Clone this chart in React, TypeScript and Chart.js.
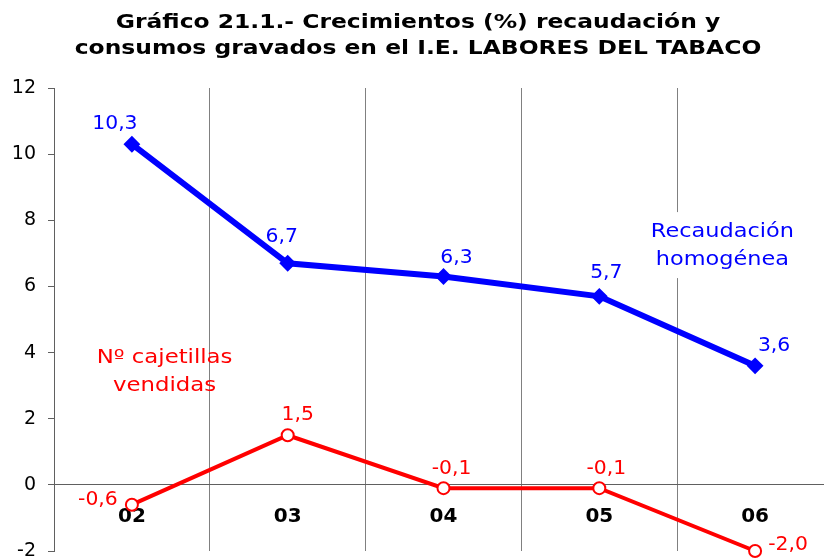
import React, { useEffect, useRef } from "react";
import { Chart, registerables } from "chart.js";

Chart.register(...registerables);

// ---- data ----
const categories = ["02", "03", "04", "05", "06"];
const recaudacion = [10.3, 6.7, 6.3, 5.7, 3.6];
const cajetillas = [-0.6, 1.5, -0.1, -0.1, -2.0];
const yMin = -2;
const yMax = 12;
const yStep = 2;
const titleLines = [
  "Gráfico 21.1.- Crecimientos (%) recaudación y",
  "consumos gravados en el I.E. LABORES DEL TABACO",
];
const recaudacionName = ["Recaudación", "homogénea"];
const cajetillasName = ["Nº cajetillas", "vendidas"];

// ---- styles (label offsets in pixels, annotation anchors in data units) ----
const BLUE = "#0000ff";
const RED = "#ff0000";
const FONT = "'DejaVu Sans', Verdana, sans-serif";
const blueLabelOffsets: [number, number][] = [
  [-17, -20],
  [-6, -26],
  [13, -18],
  [7, -23],
  [19, -20],
];
const redLabelOffsets: [number, number][] = [
  [-34, -5],
  [10, -20],
  [8, -19],
  [7, -19],
  [33, -6],
];
const blueNameAnchor = { x: 3.79, y: 7.22 };
const redNameAnchor = { x: 0.21, y: 3.45 };

const fmt = (v: number) => v.toFixed(1).replace(".", ",");

function drawText(
  ctx: CanvasRenderingContext2D,
  text: string,
  x: number,
  y: number,
  sx: number
) {
  ctx.save();
  ctx.translate(x, y);
  ctx.scale(sx, 1);
  ctx.fillText(text, 0, 0);
  ctx.restore();
}

const textPlugin = {
  id: "textPlugin",
  afterDraw(chart: any) {
    const ctx: CanvasRenderingContext2D = chart.ctx;
    const xs = chart.scales.x;
    const ys = chart.scales.y;
    ctx.save();
    ctx.textAlign = "center";
    ctx.textBaseline = "middle";

    // title
    ctx.fillStyle = "#000";
    ctx.font = `bold 20px ${FONT}`;
    titleLines.forEach((t, i) => drawText(ctx, t, 418, 23 + i * 26, 1.17));

    // value labels
    ctx.font = `19px ${FONT}`;
    ctx.fillStyle = BLUE;
    recaudacion.forEach((v, i) => {
      const [dx, dy] = blueLabelOffsets[i];
      drawText(ctx, fmt(v), xs.getPixelForValue(i) + dx, ys.getPixelForValue(v) + dy, 1.07);
    });
    ctx.fillStyle = RED;
    cajetillas.forEach((v, i) => {
      const [dx, dy] = redLabelOffsets[i];
      drawText(ctx, fmt(v), xs.getPixelForValue(i) + dx, ys.getPixelForValue(v) + dy, 1.07);
    });

    // series names
    const bx = xs.getPixelForValue(blueNameAnchor.x);
    const by = ys.getPixelForValue(blueNameAnchor.y);
    ctx.fillStyle = "#fff";
    ctx.fillRect(bx - 78, by - 34, 156, 66);
    ctx.fillStyle = BLUE;
    recaudacionName.forEach((t, i) => drawText(ctx, t, bx, by - 14 + i * 28, 1.18));

    const rx = xs.getPixelForValue(redNameAnchor.x);
    const ry = ys.getPixelForValue(redNameAnchor.y);
    ctx.fillStyle = RED;
    cajetillasName.forEach((t, i) => drawText(ctx, t, rx, ry - 13 + i * 28, 1.2));
    ctx.restore();
  },
};

export default function App() {
  const ref = useRef<HTMLCanvasElement>(null);
  useEffect(() => {
    if (!ref.current) return;
    const chart = new Chart(ref.current, {
      type: "line",
      data: {
        labels: categories,
        datasets: [
          {
            label: "Recaudación homogénea",
            data: recaudacion,
            borderColor: BLUE,
            backgroundColor: BLUE,
            borderWidth: 6,
            pointStyle: "rectRot",
            pointRadius: 7,
            pointBorderWidth: 2,
            pointBackgroundColor: BLUE,
            pointBorderColor: BLUE,
            tension: 0,
            clip: false as any,
          },
          {
            label: "Nº cajetillas vendidas",
            data: cajetillas,
            borderColor: RED,
            backgroundColor: RED,
            borderWidth: 4,
            pointStyle: "circle",
            pointRadius: 6,
            pointBorderWidth: 2,
            pointBackgroundColor: "#fff",
            pointBorderColor: RED,
            tension: 0,
            clip: false as any,
          },
        ],
      },
      options: {
        responsive: false,
        animation: false,
        devicePixelRatio: 1,
        layout: { padding: { top: 88, bottom: 29, left: 0, right: 0 } },
        plugins: {
          legend: { display: false },
          title: { display: false },
          tooltip: { enabled: false },
        },
        scales: {
          x: {
            type: "category",
            offset: true,
            position: { y: 0 } as any,
            grid: {
              offset: true,
              color: "#808080",
              lineWidth: 1,
              drawTicks: false,
            },
            border: { color: "#606060", width: 1 },
            ticks: {
              color: "#000",
              font: { family: FONT, size: 20, weight: "bold" },
              padding: 20,
              maxRotation: 0,
            },
          },
          y: {
            min: yMin,
            max: yMax,
            ticks: {
              stepSize: yStep,
              color: "#000",
              font: { family: FONT, size: 19 },
              padding: 12,
            },
            grid: {
              drawOnChartArea: false,
              drawTicks: true,
              tickLength: 6,
              color: "#606060",
            },
            border: { color: "#606060", width: 1 },
            afterFit: (scale: any) => {
              scale.width = 54;
            },
          },
        },
      },
      plugins: [textPlugin],
    });
    return () => chart.destroy();
  }, []);
  return (
    <div
      style={{
        position: "fixed",
        left: 0,
        top: 0,
        width: 824,
        height: 558,
        overflow: "hidden",
        background: "#fff",
      }}
    >
      <canvas ref={ref} width={842} height={580} style={{ display: "block" }} />
    </div>
  );
}
